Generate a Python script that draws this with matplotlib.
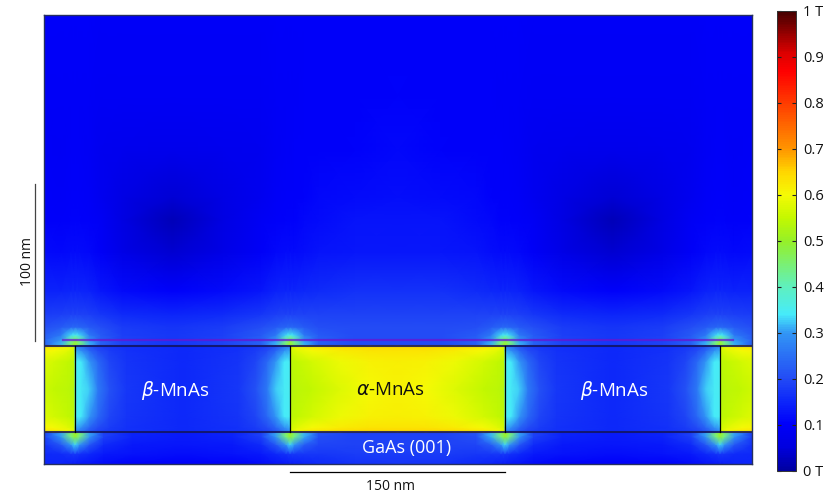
import numpy as np
import matplotlib
matplotlib.use("Agg")
import matplotlib.pyplot as plt
from matplotlib.colors import LinearSegmentedColormap, Normalize
from matplotlib.cm import ScalarMappable

plt.rcParams['font.family'] = ['Open Sans', 'DejaVu Sans']
plt.rcParams['mathtext.fontset'] = 'dejavusans'

# Field map values in tesla. Mostly symmetric about the
# middle of the alpha stripe, so only one half is listed and then mirrored.
CENTER = 246.7
DOMAIN = 150.0

# distance from the alpha centre (nm), used by air and substrate
dist = [0, 30, 55, 65, 72, 75, 78, 85, 95, 115, 150, 185, 205, 215, 222, 225, 228, 235, 247]
# the dark spot on the left sits a little further out than the right one
dist_left = [0, 30, 55, 65, 72, 75, 78, 85, 95, 122, 157, 192, 207, 215, 222, 225, 228, 235, 247]

air_y = [55, 59, 62, 67, 75, 90, 115, 135, 150, 180, 215, 266]
air_b = [
    [.20, .20, .23, .32, .46, .52, .46, .32, .23, .19, .175, .19, .23, .32, .46, .52, .46, .32, .23],
    [.20, .20, .23, .30, .42, .46, .42, .30, .23, .19, .175, .19, .23, .30, .42, .46, .42, .30, .23],
    [.20, .20, .22, .26, .33, .35, .33, .26, .22, .185, .175, .185, .22, .26, .33, .35, .33, .26, .22],
    [.20, .20, .205, .22, .235, .24, .235, .22, .205, .18, .17, .18, .205, .22, .235, .24, .235, .22, .205],
    [.19, .19, .19, .19, .19, .19, .19, .185, .175, .16, .15, .16, .175, .185, .19, .19, .19, .185, .18],
    [.165, .165, .16, .155, .15, .15, .15, .145, .13, .115, .105, .115, .13, .145, .15, .15, .15, .145, .145],
    [.13, .13, .125, .12, .115, .115, .115, .11, .095, .07, .04, .07, .095, .11, .115, .115, .115, .11, .115],
    [.125, .125, .115, .11, .105, .105, .105, .10, .09, .06, .02, .06, .09, .10, .105, .105, .105, .10, .105],
    [.12, .115, .11, .105, .10, .10, .10, .095, .085, .065, .045, .065, .085, .095, .10, .10, .10, .095, .10],
    [.11, .105, .10, .10, .10, .095, .095, .09, .085, .08, .075, .08, .085, .09, .095, .095, .095, .09, .095],
    [.105, .10, .10, .10, .095, .095, .095, .095, .09, .09, .09, .09, .09, .095, .095, .095, .095, .095, .095],
    [.10, .10, .10, .10, .10, .10, .10, .10, .095, .095, .095, .095, .095, .10, .10, .10, .10, .10, .10],
]

sub_y = [-20.4, -14, -8, -3, 0]
sub_b = [
    [.17, .165, .155, .145, .14, .135, .13, .125, .115, .105, .10, .105, .115, .125, .13, .135, .14, .145, .15],
    [.18, .18, .175, .175, .175, .175, .165, .155, .135, .125, .12, .125, .135, .155, .165, .175, .17, .16, .155],
    [.19, .19, .195, .225, .30, .33, .30, .215, .16, .135, .13, .135, .16, .215, .30, .33, .30, .215, .165],
    [.19, .19, .205, .31, .44, .49, .44, .30, .185, .145, .135, .145, .185, .30, .44, .49, .44, .30, .18],
    [.19, .19, .215, .32, .46, .52, .46, .31, .19, .15, .14, .15, .19, .31, .46, .52, .46, .31, .19],
]

# alpha stripe, distance from its centre
alpha_d = [0, 20, 40, 60, 70, 75]
film_y = [0, 3, 10, 27.5, 45, 52, 55]
alpha_b = [
    [.65, .65, .645, .63, .60, .57],
    [.63, .63, .62, .60, .58, .56],
    [.615, .61, .59, .565, .55, .54],
    [.61, .60, .575, .55, .54, .535],
    [.615, .61, .59, .565, .55, .54],
    [.63, .63, .62, .60, .58, .56],
    [.65, .65, .645, .63, .60, .57],
]

# beta stripe, distance from its wall
beta_d = [0, 4, 10, 16, 24, 36, 75]
beta_b = [
    [.28, .25, .21, .185, .175, .165, .155],
    [.31, .29, .235, .20, .18, .165, .155],
    [.345, .34, .30, .24, .195, .17, .155],
    [.35, .345, .325, .265, .21, .175, .155],
    [.345, .34, .30, .24, .195, .17, .155],
    [.31, .29, .235, .20, .18, .165, .155],
    [.28, .25, .21, .185, .175, .165, .155],
]

cbar_ticks = [0, .1, .2, .3, .4, .5, .6, .7, .8, .9, 1]
cbar_labels = ["0 T", "0.1", "0.2", "0.3", "0.4", "0.5", "0.6", "0.7", "0.8", "0.9", "1 T"]

cmap = LinearSegmentedColormap.from_list("comsol", [
    (0, (0, 0, 160 / 255)),
    (.05, (0, 0, 222 / 255)),
    (.1, (0, 0, 250 / 255)),
    (.15, (12 / 255, 38 / 255, 250 / 255)),
    (.2, (35 / 255, 75 / 255, 245 / 255)),
    (.3, (50 / 255, 150 / 255, 245 / 255)),
    (.34, (70 / 255, 235 / 255, 250 / 255)),
    (.4, (95 / 255, 240 / 255, 190 / 255)),
    (.5, (150 / 255, 240 / 255, 40 / 255)),
    (.55, (195 / 255, 248 / 255, 0)),
    (.6, (245 / 255, 250 / 255, 5 / 255)),
    (.65, (255 / 255, 215 / 255, 0)),
    (.7, (255 / 255, 150 / 255, 0)),
    (.8, (255 / 255, 60 / 255, 0)),
    (.87, (255 / 255, 0, 0)),
    (.91, (220 / 255, 0, 0)),
    (1, (70 / 255, 0, 0)),
])
norm = Normalize(0, 1)


def mirror(values):
    values = np.asarray(values, dtype=float)
    return np.concatenate([values[..., :0:-1], values], axis=-1)


W, H = 830, 503
fig = plt.figure(figsize=(W / 100, H / 100), dpi=100)
ax = fig.add_axes([44 / W, 1 - 464 / H, 708 / W, 449 / H])

# air and substrate span the full width
air_x = np.concatenate([-np.array(dist_left[:0:-1], dtype=float), dist]) + CENTER
sub_x = np.concatenate([-np.array(dist[:0:-1], dtype=float), dist]) + CENTER
ax.pcolormesh(air_x, air_y, mirror(air_b), cmap=cmap, norm=norm, shading='gouraud')
ax.pcolormesh(sub_x, sub_y, mirror(sub_b), cmap=cmap, norm=norm, shading='gouraud')

# one alpha stripe in the middle, clipped neighbours on each side
alpha_x = np.concatenate([-np.array(alpha_d[:0:-1], dtype=float), alpha_d])
for c in (CENTER - 2 * DOMAIN, CENTER, CENTER + 2 * DOMAIN):
    ax.pcolormesh(alpha_x + c, film_y, mirror(alpha_b), cmap=cmap, norm=norm, shading='gouraud')

beta_x = np.concatenate([beta_d, 150 - np.array(beta_d[-2::-1], dtype=float)])
beta_z = np.hstack([np.array(beta_b), np.array(beta_b)[:, -2::-1]])
walls = [CENTER - 225, CENTER - 75, CENTER + 75, CENTER + 225]
for x0 in (walls[0], walls[2]):
    ax.pcolormesh(beta_x + x0, film_y, beta_z, cmap=cmap, norm=norm, shading='gouraud')

# interfaces
ax.plot([0, 494], [55, 55], color='#14145a', lw=1.5, alpha=0.85)
ax.plot([0, 494], [0, 0], color='#14145a', lw=1.5, alpha=0.85)
ax.plot([13, 481], [59, 59], color='#6a14d0', lw=1.6, alpha=0.75)
for xw in walls:
    ax.plot([xw, xw], [0, 55], color='black', lw=0.9)

ax.set_xlim(0, 494)
ax.set_ylim(-20.4, 266)
ax.set_xticks([])
ax.set_yticks([])
for s in ax.spines.values():
    s.set_color('#26305f')
    s.set_linewidth(1.0)

# labels inside the map
ax.text(91.4, 26.5, r"$\beta$-MnAs", color='white', fontsize=13.5, ha='center', va='center')
ax.text(397.8, 26.5, r"$\beta$-MnAs", color='white', fontsize=13.5, ha='center', va='center')
ax.text(242, 26.5, r"$\alpha$-MnAs", color='#101010', fontsize=13.5, ha='center', va='center')
ax.text(253.3, -10.5, "GaAs (001)", color='white', fontsize=13, ha='center', va='center')

# scale bars
ax.plot([walls[1], walls[2]], [-25.5, -25.5], color='black', lw=0.9, clip_on=False)
ax.text(242, -34.5, "150 nm", fontsize=10, ha='center', va='center', color='#111111')
ax.plot([-6, -6], [58, 158], color='#444444', lw=0.9, clip_on=False)
ax.text(-11.5, 109, "100 nm", fontsize=10, rotation=90, ha='center', va='center', color='#111111')

# colour bar
cax = fig.add_axes([777 / W, 1 - 471 / H, 19 / W, 460 / H])
cb = fig.colorbar(ScalarMappable(norm=norm, cmap=cmap), cax=cax, ticks=cbar_ticks)
cb.ax.set_yticklabels(cbar_labels)
cb.ax.tick_params(direction='in', left=True, right=True, length=3, width=0.8,
                  labelsize=10.5, color='#222222', labelcolor='#111111', pad=5)
cb.outline.set_edgecolor('#333333')
cb.outline.set_linewidth(0.7)

fig.savefig("out.png", dpi=100)
